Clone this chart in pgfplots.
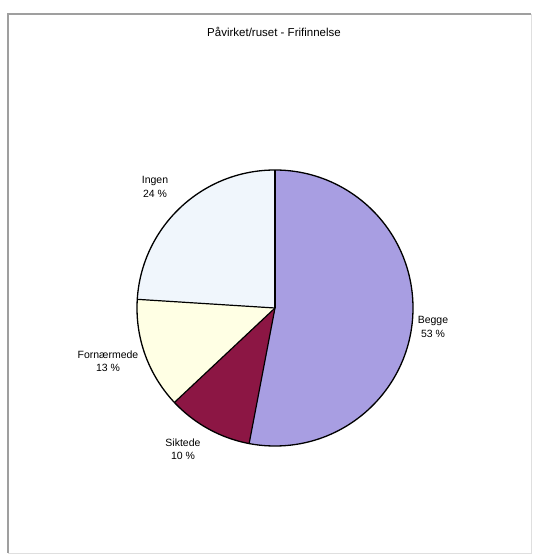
\documentclass[border=0pt]{standalone}
\usepackage{pgfplots}
\usepackage{pgfplotstable}
\pgfplotsset{compat=1.18}
\usepackage{fontspec}
\setmainfont{Liberation Sans}

\definecolor{cBegge}{RGB}{168,158,226}
\definecolor{cSiktede}{RGB}{140,22,68}
\definecolor{cForn}{RGB}{255,255,228}
\definecolor{cIngen}{RGB}{240,246,252}

\pgfplotstableread{
label value
Begge 53
Siktede 10
Fornaermede 13
Ingen 24
}\piedata

% cumulative angles (clockwise from 12 o'clock)
\pgfplotstablegetelem{0}{value}\of\piedata \let\vA\pgfplotsretval
\pgfplotstablegetelem{1}{value}\of\piedata \let\vB\pgfplotsretval
\pgfplotstablegetelem{2}{value}\of\piedata \let\vC\pgfplotsretval
\pgfplotstablegetelem{3}{value}\of\piedata \let\vD\pgfplotsretval
\pgfmathsetmacro{\aA}{90}
\pgfmathsetmacro{\aB}{\aA-3.6*\vA}
\pgfmathsetmacro{\aC}{\aB-3.6*\vB}
\pgfmathsetmacro{\aD}{\aC-3.6*\vC}
\pgfmathsetmacro{\aE}{\aD-3.6*\vD}

\begin{document}
\begin{tikzpicture}
\useasboundingbox (0,0) rectangle (536pt,558pt);
\begin{axis}[
  at={(0,0)}, anchor=south west,
  hide axis, scale only axis,
  width=536pt, height=558pt,
  xmin=0, xmax=536, ymin=0, ymax=558,
  clip=false,
]
% frame
\draw[gray!75, line width=1.3pt] (axis cs:8,5) -- (axis cs:8,544) -- (axis cs:531,544);
\draw[gray!25, line width=0.8pt] (axis cs:531,544) -- (axis cs:531,5) -- (axis cs:8,5);
% title
\node[font=\fontsize{11.5}{13}\selectfont] at (axis cs:274,526) {Påvirket/ruset - Frifinnelse};
% pie
\def\cx{275}\def\cy{250}\def\R{138pt}
\fill[cBegge] (axis cs:\cx,\cy) -- ++(\aA:\R) arc[start angle=\aA, end angle=\aB, radius=\R] -- cycle;
\fill[cSiktede] (axis cs:\cx,\cy) -- ++(\aB:\R) arc[start angle=\aB, end angle=\aC, radius=\R] -- cycle;
\fill[cForn] (axis cs:\cx,\cy) -- ++(\aC:\R) arc[start angle=\aC, end angle=\aD, radius=\R] -- cycle;
\fill[cIngen] (axis cs:\cx,\cy) -- ++(\aD:\R) arc[start angle=\aD, end angle=\aE, radius=\R] -- cycle;
\draw[black, line width=1.3pt] (axis cs:\cx,\cy) circle[radius=\R];
\draw[black, line width=1.2pt] (axis cs:\cx,\cy) -- ++(\aA:\R);
\draw[black, line width=1.2pt] (axis cs:\cx,\cy) -- ++(\aB:\R);
\draw[black, line width=1.2pt] (axis cs:\cx,\cy) -- ++(\aC:\R);
\draw[black, line width=1.2pt] (axis cs:\cx,\cy) -- ++(\aD:\R);
% labels
\tikzset{lbl/.style={font=\fontsize{10.5}{13.5}\selectfont, align=center}}
\node[lbl] at (axis cs:155,371) {Ingen\\\vD\ \%};
\node[lbl] at (axis cs:433,231) {Begge\\\vA\ \%};
\node[lbl] at (axis cs:108,197) {Fornærmede\\\vC\ \%};
\node[lbl] at (axis cs:183,109) {Siktede\\\vB\ \%};
\end{axis}
\end{tikzpicture}
\end{document}
